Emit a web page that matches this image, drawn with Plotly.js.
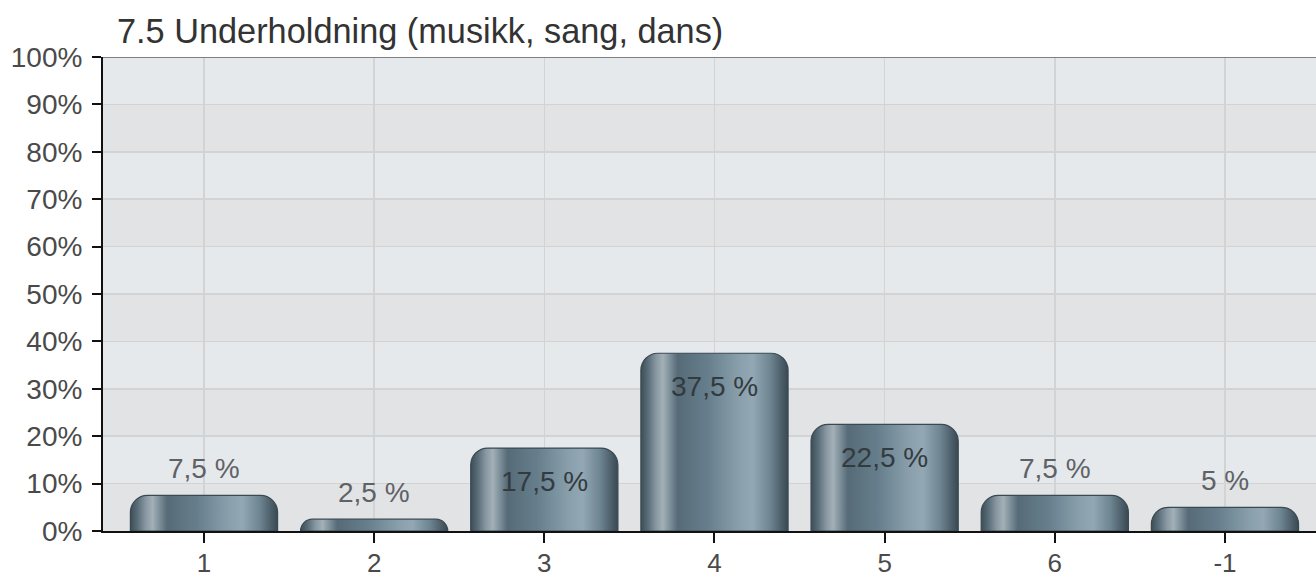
<!DOCTYPE html>
<html>
<head>
<meta charset="utf-8">
<script src="https://cdn.plot.ly/plotly-3.0.1.min.js"></script>
<style>
  html, body { margin: 0; padding: 0; background: #ffffff; }
  #chart { width: 1316px; height: 579px; }
</style>
</head>
<body>
<div id="chart"></div>
<script>
// ---- data ----
const chartTitle = "7.5 Underholdning (musikk, sang, dans)";
const categories = ["1", "2", "3", "4", "5", "6", "-1"];
const percentValues = [7.5, 2.5, 17.5, 37.5, 22.5, 7.5, 5];
const yTickValues = [0, 10, 20, 30, 40, 50, 60, 70, 80, 90, 100];
const yTickLabels = ["0%", "10%", "20%", "30%", "40%", "50%", "60%", "70%", "80%", "90%", "100%"];

// ---- styling helpers ----
const FONT = "Liberation Sans, Arial, Helvetica, sans-serif";
const insideThreshold = 15;

const labelText = percentValues.map(v => String(v).replace(".", ",") + " %");

// annotations on a category axis are positioned by category index
const annotations = percentValues.map((v, i) => {
  const inside = v >= insideThreshold;
  return {
    x: i, y: v, xref: "x", yref: "y",
    text: labelText[i], showarrow: false,
    xanchor: "center", yanchor: "middle",
    yshift: inside ? -33 : 27,
    font: { family: FONT, size: 28, color: inside ? "#333b40" : "#5e6266" }
  };
});

// alternating background bands (grey on every other 10% band)
const shapes = [];
for (let i = 0; i < yTickValues.length - 1; i++) {
  if (i % 2 === 0) {
    shapes.push({
      type: "rect", xref: "paper", yref: "y", layer: "below",
      x0: 0, x1: 1, y0: yTickValues[i], y1: yTickValues[i + 1],
      fillcolor: "#e2e3e5", line: { width: 0 }
    });
  }
}
// top border line
shapes.push({
  type: "line", xref: "paper", yref: "y", x0: 0, x1: 1,
  y0: yTickValues[yTickValues.length - 1], y1: yTickValues[yTickValues.length - 1],
  line: { color: "#7d7f81", width: 2 }
});

const trace = {
  type: "bar",
  x: categories,
  y: percentValues,
  width: 0.865,
  marker: {
    color: "#6b818d",
    cornerradius: 17,
    line: { color: "#3b4a52", width: 1.2 }
  },
  hoverinfo: "none"
};

const layout = {
  width: 1316, height: 579,
  margin: { l: 103, r: 0, t: 57, b: 48, pad: 0 },
  paper_bgcolor: "#ffffff",
  plot_bgcolor: "#e6e9ec",
  showlegend: false,
  title: {
    text: chartTitle,
    font: { family: FONT, size: 34.3, color: "#333333" },
    xref: "container", yref: "container",
    x: 117 / 1316, xanchor: "left",
    y: 1 - 31 / 579, yanchor: "middle"
  },
  xaxis: {
    type: "category",
    categoryorder: "array",
    categoryarray: categories,
    range: [-0.5935, 6.535],
    showgrid: true, gridcolor: "#d2d3d5", gridwidth: 1.5,
    showline: true, linecolor: "#111111", linewidth: 2,
    ticks: "outside", ticklen: 10, tickwidth: 2, tickcolor: "#111111",
    ticklabelstandoff: -2,
    tickfont: { family: FONT, size: 26, color: "#4a4a4a" },
    fixedrange: true
  },
  yaxis: {
    range: [0, 100],
    tickmode: "array", tickvals: yTickValues, ticktext: yTickLabels,
    showgrid: true, gridcolor: "#d2d3d5", gridwidth: 1.5,
    zeroline: false,
    showline: true, linecolor: "#111111", linewidth: 2,
    ticks: "outside", ticklen: 9, tickwidth: 2, tickcolor: "#111111",
    ticklabelstandoff: 4,
    tickfont: { family: FONT, size: 28, color: "#4a4a4a" },
    fixedrange: true
  },
  shapes: shapes,
  annotations: annotations
};

Plotly.newPlot("chart", [trace], layout, { displayModeBar: false, staticPlot: true }).then(gd => {
  // cylinder-like horizontal gradient on the bars
  const svg = gd.querySelector(".main-svg");
  let defs = svg.querySelector("defs");
  const NS = "http://www.w3.org/2000/svg";
  if (!defs) {
    defs = document.createElementNS(NS, "defs");
    svg.insertBefore(defs, svg.firstChild);
  }
  const grad = document.createElementNS(NS, "linearGradient");
  grad.setAttribute("id", "barGrad");
  grad.setAttribute("x1", "0"); grad.setAttribute("x2", "1");
  grad.setAttribute("y1", "0"); grad.setAttribute("y2", "0");
  const stops = [
    [0.00, "#3d4d56"], [0.05, "#5a6e79"], [0.10, "#8695a0"], [0.15, "#a3b0b7"],
    [0.20, "#7b8e99"], [0.25, "#566b77"], [0.45, "#667e8c"], [0.66, "#889eab"],
    [0.76, "#93a8b4"], [0.88, "#6d8491"], [0.96, "#4a5c67"], [1.00, "#394952"]
  ];
  stops.forEach(([o, c]) => {
    const s = document.createElementNS(NS, "stop");
    s.setAttribute("offset", o);
    s.setAttribute("stop-color", c);
    grad.appendChild(s);
  });
  defs.appendChild(grad);
  gd.querySelectorAll(".barlayer .point path").forEach(p => {
    p.style.fill = "url(#barGrad)";
  });
});
</script>
</body>
</html>
